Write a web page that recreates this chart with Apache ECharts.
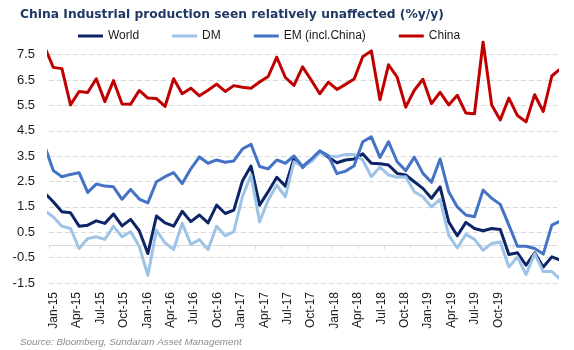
<!DOCTYPE html>
<html>
<head>
<meta charset="utf-8">
<script src="https://cdn.jsdelivr.net/npm/echarts@6/dist/echarts.min.js"></script>
<style>
html,body{margin:0;padding:0;background:#fff;}
#chart{width:574px;height:350px;}
</style>
</head>
<body>
<div id="chart"></div>
<script>
// Monthly data Dec-14 .. Dec-19 (first and last points are partly clipped by the plot edges)
const months = ['Dec-14'];
['15','16','17','18','19'].forEach(y => ['Jan','Feb','Mar','Apr','May','Jun','Jul','Aug','Sep','Oct','Nov','Dec'].forEach(m => months.push(m + '-' + y)));

const world = [2.05,
  1.7, 1.31, 1.27, 0.74, 0.78, 0.95, 0.85, 1.22, 0.75, 1.01, 0.56, -0.34,
  1.14, 0.87, 0.74, 1.33, 0.92, 1.18, 0.87, 1.57, 1.24, 1.37, 2.52, 3.11,
  1.57, 2.1, 2.67, 2.32, 3.42, 3.06, 3.35, 3.68, 3.46, 3.24, 3.35, 3.39,
  3.59, 3.22, 3.2, 3.15, 2.82, 2.76, 2.49, 2.23, 1.84, 2.29, 0.91, 0.36,
  0.89, 0.65, 0.56, 0.65, 0.61, -0.38, -0.31, -0.8, -0.31, -0.87, -0.47, -0.6];

const dm = [1.35,
  1.1, 0.74, 0.65, -0.14, 0.25, 0.32, 0.22, 0.74, 0.32, 0.52, -0.05, -1.2,
  0.58, 0.08, -0.18, 0.85, 0.02, 0.21, -0.18, 0.74, 0.36, 0.52, 1.9, 2.76,
  0.91, 1.77, 2.36, 1.9, 3.28, 3.09, 3.28, 3.64, 3.51, 3.48, 3.57, 3.57,
  3.35, 2.69, 3.07, 2.76, 2.67, 2.69, 2.1, 1.9, 1.5, 1.8, 0.39, -0.12,
  0.42, 0.22, -0.21, 0.06, 0.12, -0.87, -0.47, -1.17, -0.34, -1.05, -1.05, -1.35];

const em = [3.9,
  2.93, 2.69, 2.78, 2.85, 2.07, 2.4, 2.32, 2.29, 1.8, 2.19, 1.81, 1.66,
  2.49, 2.69, 2.85, 2.42, 3.0, 3.47, 3.22, 3.35, 3.26, 3.31, 3.78, 3.97,
  3.09, 3.0, 3.35, 3.22, 3.51, 3.09, 3.38, 3.71, 3.51, 2.81, 2.91, 3.12,
  4.07, 4.26, 3.45, 4.07, 3.28, 2.93, 3.46, 2.82, 2.47, 3.39, 2.1, 1.5,
  1.18, 1.11, 2.16, 1.84, 1.6, 0.78, -0.05, -0.05, -0.14, -0.36, 0.78, 0.95];

const china = [7.8,
  7.0, 6.95, 5.52, 6.05, 6.01, 6.55, 5.65, 6.48, 5.56, 5.55, 6.09, 5.79,
  5.77, 5.46, 6.55, 5.96, 6.18, 5.88, 6.1, 6.34, 6.05, 6.28, 6.22, 6.18,
  6.42, 6.64, 7.4, 6.6, 6.29, 7.02, 6.5, 5.96, 6.42, 6.13, 6.33, 6.54,
  7.42, 7.65, 5.72, 7.1, 6.62, 5.43, 6.1, 6.53, 5.57, 6.02, 5.52, 5.9,
  5.2, 5.17, 8.0, 5.52, 4.93, 5.79, 5.1, 4.85, 5.92, 5.26, 6.66, 6.95];

const xTickLabels = ['Jan-15','Apr-15','Jul-15','Oct-15','Jan-16','Apr-16','Jul-16','Oct-16',
  'Jan-17','Apr-17','Jul-17','Oct-17','Jan-18','Apr-18','Jul-18','Oct-18','Jan-19','Apr-19','Jul-19','Oct-19'];
const yTickLabels = ['-1.5','-0.5','0.5','1.5','2.5','3.5','4.5','5.5','6.5','7.5'];

const seriesNames = ['World', 'DM', 'EM (incl.China)', 'China'];
const seriesData = [world, dm, em, china];
const colors = ['#0d2566', '#9dc3e6', '#4472c4', '#c00000'];

// month position: Dec-14 centred at -0.5, Jan-15 at 0.5 ...
const toPairs = arr => arr.map((v, i) => [i - 0.5, v]);

const chart = echarts.init(document.getElementById('chart'), null, {renderer: 'canvas'});
const gridLineColor = '#d9d9d9';
chart.setOption({
  animation: false,
  backgroundColor: '#ffffff',
  color: colors,
  title: [{
    text: 'China Industrial production seen relatively unaffected (%y/y)',
    left: 20, top: 9, padding: 0,
    textStyle: {fontFamily: 'DejaVu Sans', fontWeight: 'bold', fontSize: 12.3, color: '#1f3864'}
  }, {
    text: 'Source: Bloomberg, Sundaram Asset Management',
    left: 20, top: 337, padding: 0,
    textStyle: {fontFamily: 'Liberation Sans', fontStyle: 'italic', fontWeight: 'normal', fontSize: 9.8, color: '#8c8c8c'}
  }],
  legend: {
    left: 78, top: 30, padding: 0,
    icon: 'rect', itemWidth: 25, itemHeight: 3, itemGap: 33,
    textStyle: {fontFamily: 'Liberation Sans', fontSize: 12, color: '#1a1a1a'},
    data: seriesNames
  },
  grid: [
    {left: 49, width: 508, top: 42, height: 241},
    {left: 42, width: 468, top: 42, height: 241}
  ],
  xAxis: [{
    type: 'value', gridIndex: 0, min: 0, max: 59.1, interval: 3,
    axisLine: {onZero: true, lineStyle: {color: gridLineColor, width: 1}},
    axisTick: {show: true, length: 4, lineStyle: {color: gridLineColor},
      customValues: [0,3,6,9,12,15,18,21,24,27,30,33,36,39,42,45,48,51,54,57]},
    axisLabel: {show: false},
    splitLine: {show: false}
  }, {
    type: 'category', gridIndex: 1, data: xTickLabels, boundaryGap: true, position: 'bottom',
    axisLine: {show: false, onZero: false}, axisTick: {show: false},
    axisLabel: {rotate: 90, margin: 9, interval: 0, fontFamily: 'Liberation Sans', fontSize: 12, color: '#1a1a1a'},
    splitLine: {show: false}
  }],
  yAxis: [{
    type: 'value', gridIndex: 0, min: -1.5, max: 8, interval: 0.5,
    axisLine: {show: false}, axisTick: {show: false},
    axisLabel: {
      margin: 14, fontFamily: 'Liberation Sans', fontSize: 13, color: '#1a1a1a',
      formatter: v => { const s = v.toFixed(1); return yTickLabels.indexOf(s) >= 0 ? s : ''; }
    },
    splitLine: {show: true, lineStyle: {color: [gridLineColor, 'rgba(0,0,0,0)'], type: [5, 3], width: 1}}
  }, {
    type: 'value', gridIndex: 1, min: 0, max: 1, show: false
  }],
  series: seriesNames.map((name, k) => ({
    name: name, type: 'line', xAxisIndex: 0, yAxisIndex: 0,
    data: toPairs(seriesData[k]),
    showSymbol: false, symbol: 'none', clip: true,
    lineStyle: {width: 3, color: colors[k], join: 'round'},
    itemStyle: {color: colors[k]}
  }))
});
</script>
</body>
</html>
